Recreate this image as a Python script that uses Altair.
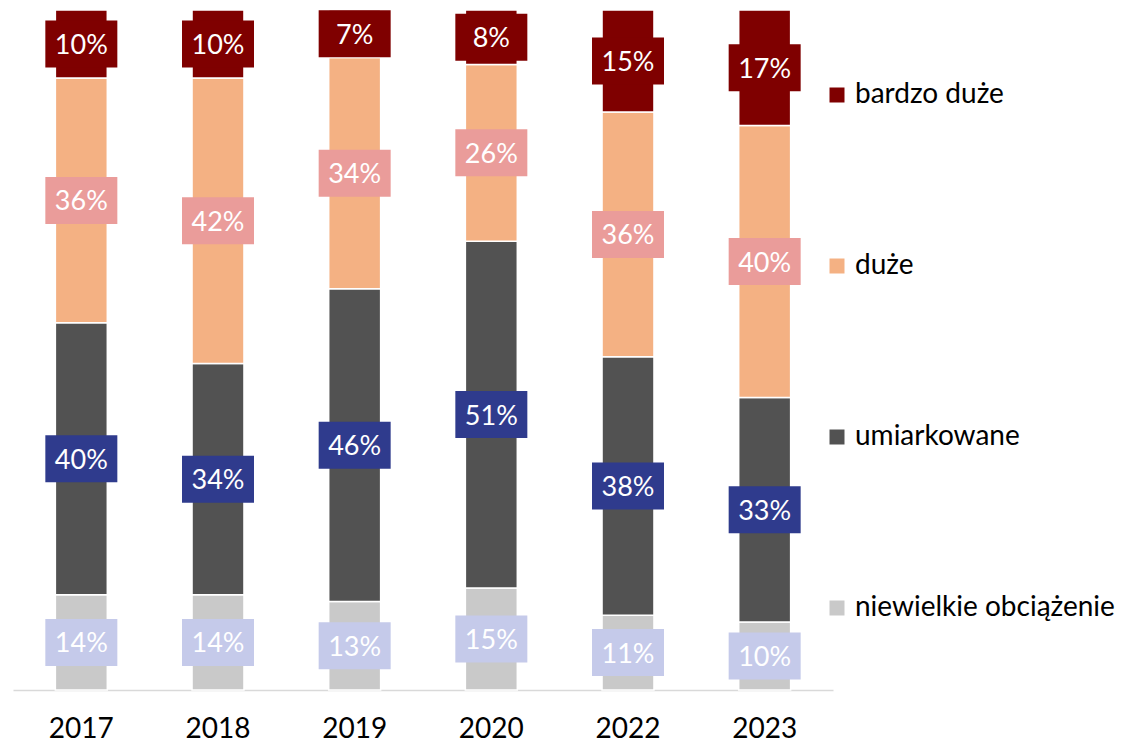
import altair as alt
import pandas as pd

years = ["2017", "2018", "2019", "2020", "2022", "2023"]
categories = ["niewielkie obciążenie", "umiarkowane", "duże", "bardzo duże"]
niewielkie = [14, 14, 13, 15, 11, 10]
umiarkowane = [40, 34, 46, 51, 38, 33]
duze = [36, 42, 34, 26, 36, 40]
bardzo_duze = [10, 10, 7, 8, 15, 17]

bar_colors = ["#C9C9C9", "#525252", "#F4B183", "#7F0000"]
box_colors = ["#C5CAEA", "#2F3B8D", "#EA9C9A", "#7F0000"]

series = [niewielkie, umiarkowane, duze, bardzo_duze]
rows = []
for i, y in enumerate(years):
    cum = 0
    for k, cat in enumerate(categories):
        v = series[k][i]
        rows.append({"year": y, "cat": cat, "order": k, "value": v,
                     "y0": cum, "y1": cum + v, "mid": cum + v / 2,
                     "label": f"{v}%", "box": box_colors[k]})
        cum += v
df = pd.DataFrame(rows)

FONT = "Lato"

x = alt.X("year:N", sort=years,
          scale=alt.Scale(paddingInner=0.62, paddingOuter=0.31),
          axis=alt.Axis(title=None, labelAngle=0, labelFontSize=28, labelColor="#000000",
                        labelFont=FONT, labelPadding=25, ticks=False,
                        domainColor="#D9D9D9", domainWidth=1.5))
yscale = alt.Scale(domain=[0, 100], nice=False)

bars = alt.Chart(df).mark_bar(stroke="white", strokeWidth=1.5).encode(
    x=x,
    y=alt.Y("y0:Q", scale=yscale, axis=None),
    y2="y1:Q",
    color=alt.Color("cat:N", sort=categories[::-1],
                    scale=alt.Scale(domain=categories[::-1], range=bar_colors[::-1]),
                    legend=alt.Legend(title=None, orient="none", legendX=810, legendY=71,
                                      symbolType="square", symbolSize=225, symbolStrokeWidth=0,
                                      labelFontSize=28, labelFont=FONT, labelColor="#000000",
                                      labelOffset=4, rowPadding=143, padding=0,
                                      labelLimit=400)),
)

boxes = alt.Chart(df).mark_point(
    shape="M-1,-0.653 L1,-0.653 L1,0.653 L-1,0.653 Z", size=5184, filled=True, opacity=1
).encode(
    x=alt.X("year:N", sort=years),
    y=alt.Y("mid:Q", scale=yscale),
    color=alt.Color("box:N", scale=None),
)

labels = alt.Chart(df).mark_text(fontSize=27, font=FONT, color="white", baseline="middle", dy=2).encode(
    x=alt.X("year:N", sort=years),
    y=alt.Y("mid:Q", scale=yscale),
    text="label:N",
)

chart = alt.layer(bars, boxes, labels).properties(
    width=820, height=680,
    autosize=alt.AutoSizeParams(type="none"),
    padding={"left": 5, "top": 2, "right": 293, "bottom": 55},
).configure_view(stroke=None)

chart.save("out.html", embed_options={"renderer": "svg", "actions": False})
